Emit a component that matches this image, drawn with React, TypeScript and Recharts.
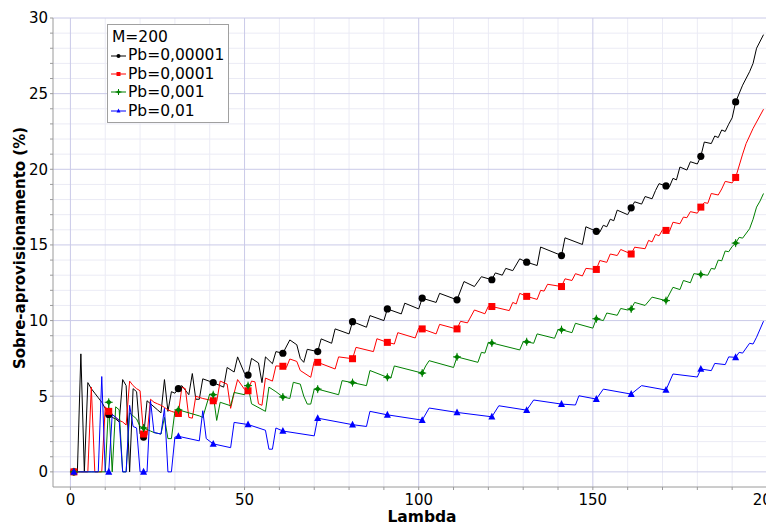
import React from 'react';
import { LineChart, Line, XAxis, YAxis, ReferenceLine, Label } from 'recharts';

type Pt = [number, number];

// lambda, sobre-aprovisionamento (%)
const pb00001: Pt[] = [
  [1, 0], [2, 0], [3, 7.8], [4, 0], [5, 5.9], [6, 5.5], [7, 5.2], [8, 4.9], [9, 4.6], [10, 4.2],
  [11, 3.8], [12, 3.6], [13, 3.5], [14, 3.3], [15, 6.1], [16, 5.7], [17, 0], [18, 5.5], [19, 5.3], [20, 2.5],
  [21, 2.3], [22, 4.7], [23, 4.5], [24, 4.3], [25, 4.1], [26, 3.9], [27, 6.1], [28, 4.0], [29, 5.3], [30, 5.2],
  [31, 5.5], [32, 5.7], [34, 5.1], [35, 6.5], [36, 4.8], [37, 4.8], [38, 6.15], [41, 5.9], [42, 5.8], [44, 5.6],
  [45, 6.9], [47, 6.6], [48, 7.6], [50, 6.5], [51, 6.4], [52, 7.5], [54, 7.2], [55, 5.9], [56, 7.6], [58, 7.15],
  [59, 7.95], [61, 7.84], [63, 8.72], [65, 8.4], [66, 7.5], [67, 7.24], [68, 8.1], [71, 7.95], [72, 8.79], [75, 8.5],
  [76, 9.45], [80, 9.12], [81, 9.93], [85, 9.56], [86, 10.33], [90, 10.0], [91, 10.77], [95, 10.44], [96, 11.15], [100, 10.77],
  [101, 11.48], [105, 11.2], [106, 11.8], [111, 11.37], [113, 12.58], [116, 12.25], [118, 12.9], [121, 12.7], [122, 13.15], [124, 13.0],
  [125, 13.45], [127, 13.3], [129, 14.08], [131, 13.86], [134, 13.64], [135, 14.86], [141, 14.3], [142, 15.47], [147, 15.03], [148, 16.2],
  [151, 15.9], [152, 15.85], [153, 16.3], [154, 16.2], [155, 16.7], [156, 16.6], [157, 17.3], [160, 17.0], [161, 17.45], [162, 17.85],
  [164, 17.7], [165, 18.2], [167, 18.05], [168, 18.6], [169, 19.05], [171, 18.9], [172, 18.85], [173, 19.4], [174, 19.3], [175, 20.15],
  [177, 19.95], [178, 20.5], [180, 20.35], [181, 20.86], [182, 21.8], [184, 21.7], [185, 22.2], [186, 22.1], [187, 22.6], [188, 22.5],
  [189, 22.98], [190, 23.4], [191, 24.45], [193, 25.56], [195, 26.45], [196, 27.0], [197, 28.0], [199, 28.9],
];

const pb0001: Pt[] = [
  [1, 0], [2, 0], [3, 0], [4, 0], [5, 0], [6, 5.6], [7, 0], [8, 0], [9, 0], [10, 4.3],
  [11, 4.0], [12, 3.8], [13, 3.6], [14, 3.4], [15, 3.3], [16, 3.1], [17, 6.0], [18, 5.7], [19, 5.5], [20, 5.36],
  [21, 2.5], [22, 2.4], [23, 4.8], [24, 4.6], [25, 4.5], [26, 4.4], [27, 4.26], [28, 4.1], [29, 4.0], [31, 3.86],
  [32, 5.6], [33, 5.5], [34, 3.6], [35, 3.55], [36, 5.0], [38, 4.85], [41, 4.7], [42, 4.65], [43, 6.0], [45, 5.8],
  [46, 4.2], [47, 5.2], [48, 6.1], [50, 5.45], [51, 5.36], [52, 6.0], [53, 5.95], [54, 4.5], [55, 4.4], [56, 6.2],
  [58, 6.0], [59, 7.0], [61, 6.98], [62, 6.9], [63, 7.46], [65, 7.3], [66, 6.7], [69, 6.25], [70, 7.3], [71, 7.24],
  [76, 6.8], [77, 7.6], [81, 7.48], [82, 8.23], [87, 7.95], [88, 8.8], [91, 8.56], [93, 8.45], [94, 9.2], [99, 8.85],
  [100, 9.5], [101, 9.45], [105, 9.12], [106, 9.75], [110, 9.5], [111, 9.45], [112, 9.95], [114, 9.85], [116, 10.7], [119, 10.45],
  [120, 10.95], [121, 10.93], [126, 10.66], [127, 11.2], [128, 11.1], [129, 11.8], [131, 11.6], [134, 11.4], [135, 12.0], [136, 11.95],
  [137, 12.4], [141, 12.25], [142, 12.76], [144, 12.65], [145, 13.1], [147, 12.95], [148, 13.45], [151, 13.38], [152, 13.97], [154, 13.85],
  [155, 14.4], [157, 14.3], [158, 14.7], [161, 14.4], [162, 14.85], [165, 14.75], [166, 15.3], [167, 15.2], [168, 15.7], [169, 15.6],
  [170, 16.0], [171, 15.96], [172, 15.9], [173, 16.5], [175, 16.4], [176, 16.84], [177, 16.8], [178, 17.2], [180, 17.1], [181, 17.5],
  [182, 17.8], [183, 17.75], [184, 18.4], [186, 18.3], [187, 18.7], [188, 19.2], [190, 19.1], [191, 19.46], [193, 21.0], [194, 21.7],
  [196, 22.7], [199, 23.97],
];

const pb001: Pt[] = [
  [1, 0], [2, 0], [3, 0], [4, 0], [5, 0], [6, 0], [7, 0], [8, 0], [9, 0], [10, 0],
  [11, 4.6], [12, 0], [13, 4.3], [14, 4.1], [15, 0], [16, 0], [17, 3.9], [18, 3.7], [19, 3.5], [20, 3.0],
  [21, 2.9], [22, 2.8], [23, 2.7], [24, 2.6], [25, 2.55], [26, 2.5], [27, 3.6], [28, 2.2], [29, 2.2], [30, 4.0],
  [31, 4.1], [37, 3.7], [38, 3.6], [40, 5.15], [41, 5.1], [42, 3.4], [43, 4.6], [46, 4.37], [47, 5.25], [50, 5.1],
  [51, 5.7], [52, 4.5], [56, 4.0], [57, 5.6], [59, 5.3], [61, 4.95], [63, 4.85], [64, 5.92], [66, 5.8], [67, 5.0],
  [68, 4.48], [69, 4.48], [70, 5.47], [71, 5.47], [77, 5.1], [78, 6.03], [81, 5.9], [85, 5.7], [86, 6.7], [91, 6.25],
  [92, 6.2], [93, 7.0], [101, 6.53], [102, 7.0], [103, 7.35], [110, 6.9], [111, 7.6], [117, 7.24], [118, 7.9], [119, 7.85],
  [120, 8.56], [121, 8.52], [129, 8.06], [130, 8.6], [131, 8.6], [133, 8.5], [134, 9.12], [139, 8.83], [140, 9.4], [141, 9.4],
  [144, 9.2], [145, 9.82], [150, 9.5], [151, 10.12], [153, 10.0], [154, 10.5], [157, 10.35], [158, 10.8], [160, 10.7], [161, 10.77],
  [162, 11.2], [165, 11.0], [167, 11.55], [171, 11.32], [173, 12.2], [175, 12.05], [176, 12.65], [178, 12.5], [179, 13.1], [181, 13.05],
  [183, 13.0], [184, 13.45], [185, 13.4], [186, 14.0], [187, 13.95], [188, 14.6], [189, 14.55], [190, 14.9], [191, 15.12], [192, 15.5],
  [193, 15.45], [195, 16.07], [196, 16.7], [197, 17.5], [198, 17.9], [199, 18.4],
];

const pb01: Pt[] = [
  [1, 0], [8, 0], [9, 6.3], [10, 0], [11, 0], [12, 3.8], [13, 3.6], [14, 3.4], [15, 0], [16, 0],
  [17, 4.4], [18, 3.0], [19, 2.9], [20, 0], [21, 0], [22, 0], [23, 4.7], [24, 2.6], [26, 2.5], [27, 4.2],
  [28, 0], [29, 0], [30, 2.3], [31, 2.35], [37, 2.05], [38, 4.04], [39, 2.2], [41, 1.85], [46, 1.6], [47, 3.27],
  [51, 3.13], [56, 2.75], [57, 1.5], [58, 1.5], [59, 2.9], [61, 2.7], [70, 2.38], [71, 3.55], [81, 3.12], [85, 3.0],
  [86, 4.0], [91, 3.77], [101, 3.42], [103, 4.22], [111, 3.93], [121, 3.64], [123, 4.37], [131, 4.08], [133, 4.75], [141, 4.48],
  [145, 4.42], [146, 5.03], [151, 4.81], [153, 5.47], [161, 5.14], [164, 5.7], [171, 5.41], [173, 6.47], [180, 6.27], [181, 6.8],
  [184, 6.69], [185, 7.17], [188, 7.09], [189, 7.6], [191, 7.57], [192, 7.9], [193, 7.85], [195, 8.5], [196, 8.45], [197, 8.9],
  [199, 9.96],
];

const seriesNames = ['Pb=0,00001', 'Pb=0,0001', 'Pb=0,001', 'Pb=0,01'];
const seriesColors = ['#000000', '#ff0000', '#008000', '#0000ff'];
const seriesShapes = ['circle', 'square', 'diamond', 'triangle'];
const seriesData = [pb00001, pb0001, pb001, pb01];

const xMajor = [0, 50, 100, 150, 200];
const yMajor = [0, 5, 10, 15, 20, 25, 30];
const xTicks = Array.from({ length: 21 }, (_, i) => i * 10);
const yTicks = Array.from({ length: 31 }, (_, i) => i);
const xMinor = xTicks.filter((v) => v % 50 !== 0);
const yMinor = yTicks.filter((v) => v % 5 !== 0);

const FONT = '"DejaVu Sans", sans-serif';

const drawShape = (shape: string, cx: number, cy: number, s: number, color: string) => {
  if (shape === 'circle') return <circle cx={cx} cy={cy} r={s} fill={color} />;
  if (shape === 'square') return <rect x={cx - s} y={cy - s} width={s * 2} height={s * 2} fill={color} />;
  if (shape === 'diamond')
    return (
      <g>
        <polygon points={`${cx},${cy - s} ${cx + s},${cy} ${cx},${cy + s} ${cx - s},${cy}`} fill={color} />
        <path d={`M${cx - s - 1},${cy}H${cx + s + 1}M${cx},${cy - s - 1}V${cy + s + 1}`} stroke={color} strokeWidth={1} />
      </g>
    );
  return <polygon points={`${cx},${cy - s - 0.5} ${cx + s},${cy + s * 0.8} ${cx - s},${cy + s * 0.8}`} fill={color} />;
};

// marker only every 10 lambda (1, 11, 21, ...)
const makeDot = (shape: string, color: string) => (props: any) => {
  const { cx, cy, payload } = props;
  if (payload == null || (payload.x - 1) % 10 !== 0 || cx == null) return <g />;
  const size = shape === 'diamond' ? 3 : shape === 'circle' ? 3.6 : 3.5;
  return <g>{drawShape(shape, cx, cy, size, color)}</g>;
};

const LegendBox = () => (
  <div
    style={{
      position: 'absolute',
      left: 99,
      top: 16,
      border: '1px solid #a0a0a0',
      background: '#fff',
      fontFamily: FONT,
      fontSize: 15.5,
      lineHeight: '18.4px',
      padding: '3px 4px 2px 2px',
      color: '#000',
    }}
  >
    <div style={{ paddingLeft: 2 }}>M=200</div>
    {seriesNames.map((name, i) => (
      <div key={name} style={{ display: 'flex', alignItems: 'center' }}>
        <svg width={17} height={12} style={{ marginRight: 1 }}>
          <line x1={1} y1={6} x2={16} y2={6} stroke={seriesColors[i]} strokeWidth={1} />
          {drawShape(seriesShapes[i], 8.5, 6, 2, seriesColors[i])}
        </svg>
        <span>{name}</span>
      </div>
    ))}
  </div>
);

export default function App() {
  return (
    <div style={{ position: 'relative', width: 766, height: 518 }}>
      <LineChart width={766} height={518} margin={{ top: 10, right: 7, bottom: 0, left: 0 }}>
        {xMinor.map((v) => (
          <ReferenceLine key={`xm${v}`} x={v} stroke="#ebebf5" strokeWidth={1} />
        ))}
        {yMinor.map((v) => (
          <ReferenceLine key={`ym${v}`} y={v} stroke="#ebebf5" strokeWidth={1} />
        ))}
        {xMajor.map((v) => (
          <ReferenceLine key={`xM${v}`} x={v} stroke="#cacae8" strokeWidth={1} />
        ))}
        {yMajor.map((v) => (
          <ReferenceLine key={`yM${v}`} y={v} stroke="#cacae8" strokeWidth={1} />
        ))}
        <XAxis
          type="number"
          dataKey="x"
          domain={[-5, 200]}
          allowDataOverflow
          ticks={xTicks}
          interval={0}
          tickFormatter={(v: number) => (v % 50 === 0 ? String(v) : '')}
          height={39}
          tickSize={3}
          tickMargin={4}
          stroke="#9a9a9a"
          tick={{ fill: '#000', fontSize: 15, fontFamily: FONT }}
        >
          <Label
            content={() => (
              <text x={414} y={509} textAnchor="middle" dominantBaseline="central" fontFamily={FONT} fontSize={15.5} fontWeight="bold" fill="#000">
                Lambda
              </text>
            )}
          />
        </XAxis>
        <YAxis
          type="number"
          domain={[-1, 30]}
          allowDataOverflow
          ticks={yTicks}
          interval={0}
          tickFormatter={(v: number) => (v % 5 === 0 ? String(v) : '')}
          width={45}
          tickSize={3}
          tickMargin={2}
          stroke="#9a9a9a"
          tick={{ fill: '#000', fontSize: 15, fontFamily: FONT }}
        >
          <Label
            content={() => (
              <text
                x={12}
                y={240}
                transform="rotate(-90 12 240)"
                textAnchor="middle"
                dominantBaseline="central"
                fontFamily={FONT}
                fontSize={15}
                fontWeight="bold"
                fill="#000"
              >
                Sobre-aprovisionamento (%)
              </text>
            )}
          />
        </YAxis>
        {seriesData.map((pts, i) => (
          <Line
            key={seriesNames[i]}
            name={seriesNames[i]}
            data={pts.map(([x, v]) => ({ x, v }))}
            dataKey="v"
            type="linear"
            stroke={seriesColors[i]}
            strokeWidth={1}
            dot={makeDot(seriesShapes[i], seriesColors[i])}
            activeDot={false}
            isAnimationActive={false}
          />
        ))}
      </LineChart>
      <LegendBox />
    </div>
  );
}
